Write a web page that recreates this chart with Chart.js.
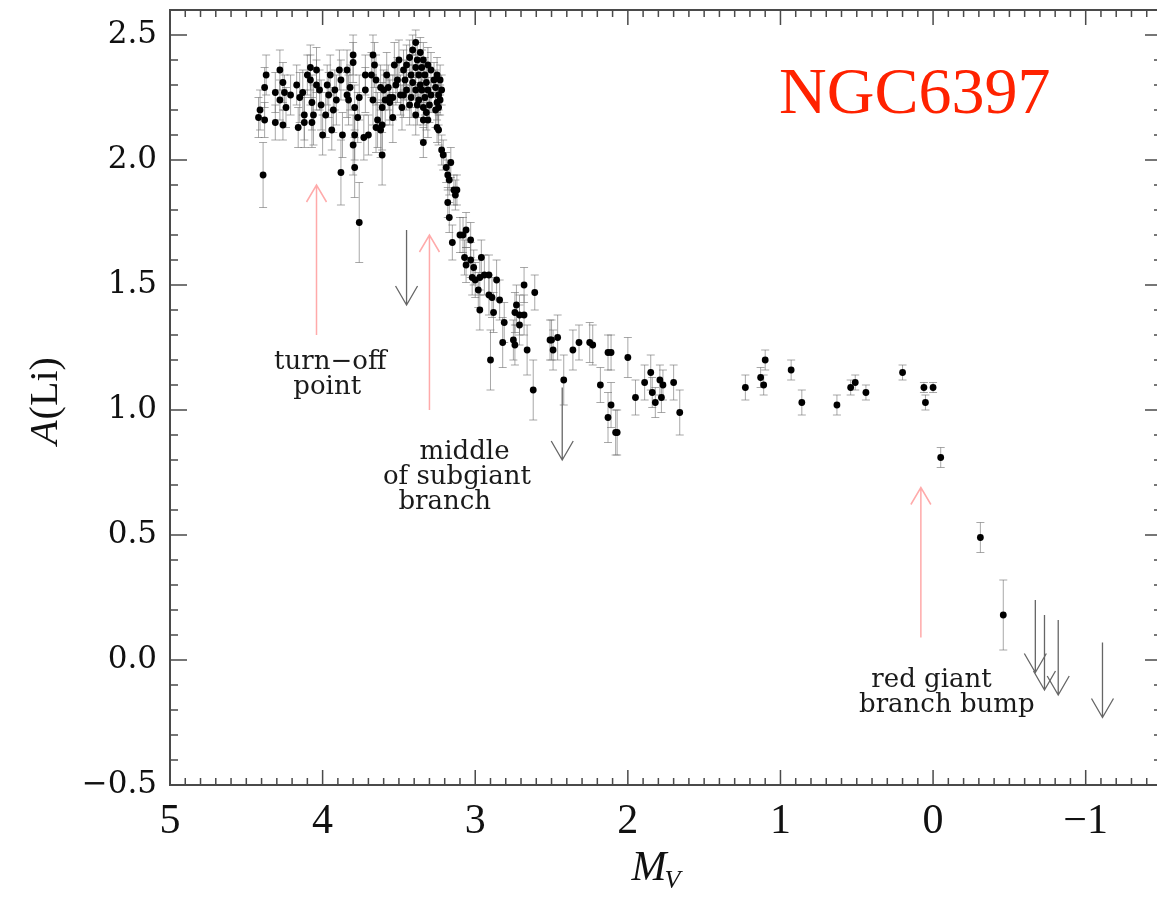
<!DOCTYPE html>
<html>
<head>
<meta charset="utf-8">
<title>NGC6397 lithium</title>
<script src="https://cdn.jsdelivr.net/npm/chart.js@4.4.1/dist/chart.umd.min.js"></script>
<style>
  html, body { margin: 0; padding: 0; background: #fff; overflow: hidden; }
  #wrap { width: 1175px; height: 897px; }
</style>
</head>
<body>
<div id="wrap"><canvas id="myChart" width="1175" height="897"></canvas></div>
<script>
// absolute magnitude of each star
const mv = [
  4.42, 4.41, 4.39, 4.38, 4.38, 4.37, 4.31, 4.31, 4.28, 4.28,
  4.26, 4.26, 4.25, 4.24, 4.21, 4.17, 4.16, 4.15, 4.13, 4.12,
  4.12, 4.10, 4.08, 4.08, 4.07, 4.07, 4.06, 4.04, 4.04, 4.02,
  4.01, 4.00, 3.98, 3.97, 3.96, 3.95, 3.94, 3.93, 3.92, 3.91,
  3.89, 3.88, 3.88, 3.87, 3.84, 3.84, 3.83, 3.82, 3.80, 3.80,
  3.80, 3.79, 3.79, 3.79, 3.77, 3.76, 3.76, 3.73, 3.72, 3.72,
  3.70, 3.68, 3.67, 3.67, 3.66, 3.65, 3.65, 3.64, 3.62, 3.62,
  3.61, 3.61, 3.61, 3.59, 3.58, 3.57, 3.56, 3.54, 3.54, 3.53,
  3.51, 3.50, 3.60, 3.56, 3.52, 3.49, 3.48, 3.47, 3.47, 3.46,
  3.45, 3.45, 3.43, 3.43, 3.42, 3.42, 3.41, 3.41, 3.39, 3.39,
  3.39, 3.39, 3.38, 3.38, 3.37, 3.37, 3.36, 3.36, 3.35, 3.35,
  3.34, 3.34, 3.34, 3.34, 3.33, 3.33, 3.32, 3.32, 3.31, 3.31,
  3.31, 3.30, 3.29, 3.29, 3.27, 3.26, 3.26, 3.25, 3.25, 3.25,
  3.24, 3.24, 3.24, 3.23, 3.23, 3.22, 3.22, 3.21, 3.19, 3.18,
  3.18, 3.17, 3.17, 3.16, 3.15, 3.14, 3.13, 3.12, 3.10, 3.08,
  3.07, 3.06, 3.06, 3.03, 3.03, 3.02, 3.01, 3.00, 2.98, 2.97,
  2.97, 2.96, 2.94, 2.91, 2.91, 2.90, 2.89, 2.88, 2.86, 2.84,
  2.82, 2.81, 2.75, 2.74, 2.74, 2.73, 2.71, 2.71, 2.68, 2.68,
  2.66, 2.62, 2.61, 2.51, 2.50, 2.49, 2.46, 2.42, 2.36, 2.32,
  2.25, 2.23, 2.18, 2.13, 2.11, 2.13, 2.11, 2.08, 2.07, 2.00,
  1.95, 1.89, 1.85, 1.84, 1.82, 1.79, 1.78, 1.77, 1.70, 1.66,
  1.23, 1.13, 1.11, 1.10, 0.93, 0.86, 0.63, 0.54, 0.51, 0.44,
  0.20, 0.06, 0.05, 0.00, -0.05, -0.31, -0.46
];
// lithium abundance
const aLi = [
  2.17, 2.20, 1.94, 2.16, 2.29, 2.34, 2.27, 2.15, 2.24, 2.36,
  2.14, 2.31, 2.27, 2.21, 2.26, 2.30, 2.13, 2.25, 2.27, 2.18,
  2.15, 2.34, 2.37, 2.32, 2.23, 2.15, 2.18, 2.30, 2.36, 2.28,
  2.22, 2.10, 2.18, 2.30, 2.26, 2.34, 2.12, 2.20, 2.28, 2.24,
  2.36, 2.32, 1.95, 2.10, 2.26, 2.36, 2.24, 2.29, 2.42, 2.39,
  2.06, 2.21, 2.10, 1.97, 2.17, 2.25, 1.75, 2.09, 2.34, 2.28,
  2.10, 2.34, 2.42, 2.24, 2.38, 2.32, 2.13, 2.16, 2.29, 2.12,
  2.21, 2.14, 2.02, 2.24, 2.34, 2.29, 2.25, 2.17, 2.25, 2.38,
  2.32, 2.40, 2.28, 2.23, 2.30, 2.26, 2.21, 2.36, 2.26, 2.32,
  2.38, 2.28, 2.41, 2.22, 2.34, 2.25, 2.44, 2.31, 2.47, 2.37,
  2.28, 2.18, 2.40, 2.22, 2.34, 2.24, 2.43, 2.30, 2.37, 2.28,
  2.40, 2.21, 2.16, 2.07, 2.34, 2.25, 2.31, 2.19, 2.38, 2.28,
  2.16, 2.22, 2.36, 2.26, 2.32, 2.29, 2.20, 2.34, 2.23, 2.13,
  2.26, 2.21, 2.12, 2.32, 2.24, 2.28, 2.04, 2.02, 1.97, 1.94,
  1.83, 1.92, 1.77, 1.99, 1.67, 1.88, 1.86, 1.88, 1.70, 1.70,
  1.61, 1.72, 1.58, 1.68, 1.60, 1.53, 1.57, 1.52, 1.48, 1.53,
  1.40, 1.61, 1.54, 1.54, 1.46, 1.20, 1.45, 1.39, 1.52, 1.44,
  1.27, 1.35, 1.28, 1.39, 1.26, 1.42, 1.38, 1.34, 1.38, 1.50,
  1.24, 1.08, 1.47, 1.28, 1.28, 1.24, 1.29, 1.12, 1.24, 1.27,
  1.27, 1.26, 1.10, 1.23, 1.23, 0.97, 1.02, 0.91, 0.91, 1.21,
  1.05, 1.11, 1.15, 1.07, 1.03, 1.12, 1.05, 1.10, 1.11, 0.99,
  1.09, 1.13, 1.10, 1.20, 1.16, 1.03, 1.02, 1.09, 1.11, 1.07,
  1.15, 1.09, 1.03, 1.09, 0.81, 0.49, 0.18
];
// 1-sigma uncertainty on A(Li)
const aErr = [
  .08, .08, .13, .07, .08, .08, .08, .07, .08, .08,
  .06, .08, .07, .08, .08, .08, .08, .10, .09, .10,
  .10, .08, .09, .10, .11, .10, .12, .10, .09, .08,
  .10, .08, .09, .08, .09, .08, .08, .09, .08, .10,
  .08, .08, .13, .09, .09, .08, .10, .09, .08, .08,
  .12, .09, .10, .12, .10, .09, .16, .09, .08, .09,
  .08, .09, .08, .10, .09, .10, .10, .11, .09, .11,
  .10, .10, .12, .10, .09, .09, .09, .10, .09, .09,
  .09, .08, .08, .09, .08, .08, .09, .08, .09, .08,
  .08, .08, .07, .08, .08, .08, .06, .07, .05, .07,
  .07, .08, .07, .08, .07, .07, .06, .07, .07, .07,
  .07, .07, .08, .06, .07, .07, .07, .07, .07, .07,
  .07, .07, .07, .07, .07, .07, .07, .07, .07, .06,
  .06, .07, .06, .06, .06, .06, .06, .06, .06, .06,
  .06, .06, .06, .06, .07, .06, .06, .06, .07, .07,
  .07, .07, .07, .07, .07, .07, .07, .07, .07, .07,
  .08, .07, .08, .08, .08, .12, .08, .08, .08, .08,
  .10, .08, .08, .08, .08, .08, .08, .08, .08, .07,
  .10, .12, .07, .08, .08, .08, .09, .10, .08, .07,
  .08, .08, .07, .07, .07, .10, .09, .09, .09, .08,
  .07, .07, .07, .06, .06, .06, .06, .06, .07, .09,
  .05, .04, .04, .04, .04, .05, .04, .03, .03, .03,
  .03, .02, .03, .02, .04, .06, .14
];

// upper limits: shaft from limitTop down to the arrow tip
const limitMv  = [3.45, 2.43, -0.67, -0.73, -0.82, -1.11];
const limitTop = [1.72, 1.09, 0.24, 0.18, 0.16, 0.07];
const limitTip = [1.42, 0.80, -0.05, -0.12, -0.14, -0.23];

// evolutionary markers (pink arrows)
const markMv   = [4.04, 3.30, 0.08];
const markFrom = [1.30, 1.00, 0.09];
const markTo   = [1.90, 1.70, 0.69];

const noteText = ['turn\u2212off', 'point', 'middle', 'of subgiant', 'branch', 'red giant', 'branch bump'];
const noteMv   = [3.95, 3.97, 3.07, 3.12, 3.20, 0.01, -0.09];
const noteA    = [1.19, 1.09, 0.83, 0.73, 0.63, -0.08, -0.18];

const xTicks = [-1, 0, 1, 2, 3, 4, 5];
const yTicks = [-0.5, 0, 0.5, 1, 1.5, 2, 2.5];

const SERIF = '"Liberation Serif", "DejaVu Serif", serif';
const minus = s => String(s).replace('-', '\u2212');

function arrow(ctx, x, yFrom, yTo, hw, hl) {
  const dir = yTo > yFrom ? 1 : -1;
  ctx.beginPath();
  ctx.moveTo(x, yFrom);
  ctx.lineTo(x, yTo);
  ctx.moveTo(x - hw, yTo - dir * hl);
  ctx.lineTo(x, yTo);
  ctx.lineTo(x + hw, yTo - dir * hl);
  ctx.stroke();
}

const decorations = {
  id: 'decorations',
  beforeDatasetsDraw(chart) {
    const { ctx, scales: { x, y } } = chart;
    ctx.save();
    ctx.strokeStyle = 'rgba(110,110,110,0.6)';
    ctx.lineWidth = 1;
    mv.forEach((m, i) => {
      const px = x.getPixelForValue(m);
      const lo = y.getPixelForValue(aLi[i] - aErr[i]);
      const hi = y.getPixelForValue(aLi[i] + aErr[i]);
      ctx.beginPath();
      ctx.moveTo(px, lo); ctx.lineTo(px, hi);
      ctx.moveTo(px - 4, lo); ctx.lineTo(px + 4, lo);
      ctx.moveTo(px - 4, hi); ctx.lineTo(px + 4, hi);
      ctx.stroke();
    });
    ctx.restore();
  },
  afterDraw(chart) {
    const { ctx, chartArea: a, scales: { x, y } } = chart;
    ctx.save();

    // upper limits
    ctx.strokeStyle = '#666';
    ctx.lineWidth = 1.3;
    limitMv.forEach((m, i) => {
      arrow(ctx, x.getPixelForValue(m), y.getPixelForValue(limitTop[i]), y.getPixelForValue(limitTip[i]), 11, 19);
    });

    // evolutionary markers
    ctx.strokeStyle = 'rgb(255,170,170)';
    ctx.lineWidth = 1.5;
    markMv.forEach((m, i) => {
      arrow(ctx, x.getPixelForValue(m), y.getPixelForValue(markFrom[i]), y.getPixelForValue(markTo[i]), 10, 17);
    });

    // notes
    ctx.fillStyle = '#1a1a1a';
    ctx.font = '26px "DejaVu Serif", serif';
    ctx.textAlign = 'center';
    ctx.textBaseline = 'middle';
    noteText.forEach((t, i) => {
      ctx.fillText(t, x.getPixelForValue(noteMv[i]), y.getPixelForValue(noteA[i]));
    });

    // cluster name
    ctx.fillStyle = '#ff2200';
    ctx.font = '66px ' + SERIF;
    ctx.textBaseline = 'alphabetic';
    ctx.fillText('NGC6397', x.getPixelForValue(0.12), y.getPixelForValue(2.19));

    // frame with inward ticks on all four sides
    ctx.strokeStyle = '#4a4a4a';
    ctx.lineWidth = 2;
    ctx.strokeRect(a.left, a.top, a.right - a.left, a.bottom - a.top);
    ctx.lineWidth = 1.5;
    ctx.beginPath();
    for (let i = -15; i <= 50; i++) {
      const px = x.getPixelForValue(i / 10);
      const len = i % 10 === 0 ? 15 : 7;
      ctx.moveTo(px, a.bottom); ctx.lineTo(px, a.bottom - len);
      ctx.moveTo(px, a.top); ctx.lineTo(px, a.top + len);
    }
    for (let i = -5; i <= 26; i++) {
      const py = y.getPixelForValue(i / 10);
      const len = i % 5 === 0 ? 17 : 8;
      ctx.moveTo(a.left, py); ctx.lineTo(a.left + len, py);
      ctx.moveTo(a.right, py); ctx.lineTo(a.right - len, py);
    }
    ctx.stroke();

    // axis titles
    ctx.fillStyle = '#111';
    ctx.textAlign = 'left';
    ctx.textBaseline = 'alphabetic';
    ctx.font = 'italic 42px ' + SERIF;
    const wM = ctx.measureText('M').width;
    ctx.font = 'italic 26px ' + SERIF;
    const wV = ctx.measureText('V').width;
    const mx = 657 - (wM + wV) / 2;
    ctx.font = 'italic 42px ' + SERIF;
    ctx.fillText('M', mx, 880);
    ctx.font = 'italic 26px ' + SERIF;
    ctx.fillText('V', mx + wM - 2, 888);

    ctx.translate(57, (a.top + a.bottom) / 2 + 4);
    ctx.rotate(-Math.PI / 2);
    ctx.font = 'italic 40px ' + SERIF;
    const wA = ctx.measureText('A').width;
    ctx.font = '40px ' + SERIF;
    const wL = ctx.measureText('(Li)').width;
    const sx = -(wA + wL) / 2;
    ctx.font = 'italic 40px ' + SERIF;
    ctx.fillText('A', sx, 0);
    ctx.font = '40px ' + SERIF;
    ctx.fillText('(Li)', sx + wA + 1, 0);

    ctx.restore();
  }
};

const ctx = document.getElementById('myChart').getContext('2d');
const myChart = new Chart(ctx, {
  type: 'scatter',
  data: {
    datasets: [{
      label: 'A(Li)',
      data: mv.map((m, i) => ({ x: m, y: aLi[i] })),
      pointRadius: 3.4,
      pointHoverRadius: 3.4,
      backgroundColor: '#000',
      borderWidth: 0
    }]
  },
  options: {
    responsive: false,
    animation: false,
    devicePixelRatio: 1,
    layout: { padding: { top: 10, right: 13, left: 0, bottom: 0 } },
    plugins: { legend: { display: false }, tooltip: { enabled: false } },
    scales: {
      x: {
        type: 'linear',
        reverse: true,
        min: -1.5,
        max: 5,
        grid: { display: false, drawTicks: false },
        border: { display: false },
        ticks: {
          color: '#111',
          padding: 12,
          font: { family: SERIF, size: 42 },
          callback: v => minus(v)
        },
        afterBuildTicks: s => { s.ticks = xTicks.map(v => ({ value: v })); },
        afterFit: s => { s.height = 112; s.paddingLeft = 0; s.paddingRight = 0; }
      },
      y: {
        type: 'linear',
        min: -0.5,
        max: 2.6,
        grid: { display: false, drawTicks: false },
        border: { display: false },
        ticks: {
          color: '#111',
          padding: 13,
          font: { family: '"DejaVu Serif", serif', size: 31 },
          callback: v => minus(v.toFixed(1))
        },
        afterBuildTicks: s => { s.ticks = yTicks.map(v => ({ value: v })); },
        afterFit: s => { s.width = 170; s.paddingTop = 0; s.paddingBottom = 0; }
      }
    }
  },
  plugins: [decorations]
});
</script>
</body>
</html>
